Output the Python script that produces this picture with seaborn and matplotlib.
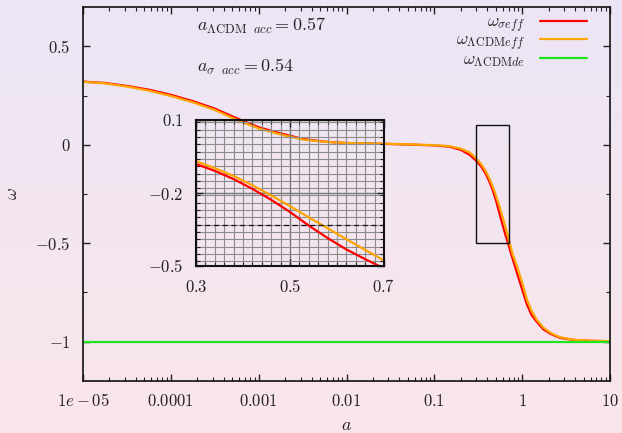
import numpy as np
import pandas as pd
import matplotlib
matplotlib.use("Agg")
import matplotlib.pyplot as plt
from matplotlib.patches import Rectangle
from matplotlib.ticker import MultipleLocator, LogLocator, NullFormatter
import seaborn as sns

# scale factor a
a_vals = [1e-05, 1.78e-05, 3.16e-05, 5.62e-05, 1e-04, 1.78e-04, 3.16e-04, 5.62e-04,
          1e-03, 1.78e-03, 3.16e-03, 5.62e-03, 1e-02, 3.16e-02, 0.1, 0.15, 0.2, 0.25,
          0.30, 0.34, 0.38, 0.42, 0.46, 0.50, 0.54, 0.58, 0.62, 0.66, 0.70,
          0.78, 0.87, 1.0, 1.13, 1.28, 1.47, 1.74, 2.07, 2.7, 3.8, 6.0, 10.0]
# effective equation of state, sigma model
w_sigma_eff = [0.321, 0.314, 0.299, 0.280, 0.254, 0.222, 0.184, 0.135,
               0.089, 0.058, 0.030, 0.016, 0.009, 0.004, -0.003, -0.010, -0.026, -0.050,
               -0.081, -0.109, -0.143, -0.183, -0.228, -0.278, -0.334, -0.385, -0.432, -0.472, -0.510,
               -0.580, -0.650, -0.735, -0.810, -0.865, -0.900, -0.937, -0.959, -0.981, -0.991, -0.996, -0.998]
# effective equation of state, LCDM
w_lcdm_eff = [0.320, 0.312, 0.296, 0.275, 0.248, 0.216, 0.177, 0.127,
              0.083, 0.052, 0.027, 0.015, 0.009, 0.005, -0.002, -0.007, -0.020, -0.038,
              -0.069, -0.098, -0.130, -0.168, -0.210, -0.254, -0.300, -0.345, -0.390, -0.434, -0.477,
              -0.557, -0.616, -0.700, -0.785, -0.844, -0.890, -0.928, -0.954, -0.978, -0.990, -0.995, -0.998]
# dark energy equation of state, LCDM
a_de = [1e-05, 10.0]
w_lcdm_de = [-1.0, -1.0]

a_acc_lcdm = 0.57
a_acc_sigma = 0.54

labels = [r"$\omega_{\sigma eff}$", r"$\omega_{\Lambda\mathrm{CDM} eff}$", r"$\omega_{\Lambda\mathrm{CDM} de}$"]
colors = ["#ff0000", "#ffa500", "#1ee61e"]

df = pd.concat([
    pd.DataFrame({"a": a_vals, "w": w_sigma_eff, "curve": labels[0]}),
    pd.DataFrame({"a": a_vals, "w": w_lcdm_eff, "curve": labels[1]}),
    pd.DataFrame({"a": a_de, "w": w_lcdm_de, "curve": labels[2]}),
], ignore_index=True)

sns.set_theme(style="ticks")
plt.rcParams["font.family"] = ["DejaVu Serif"]
plt.rcParams["mathtext.fontset"] = "cm"
plt.rcParams["xtick.direction"] = "in"
plt.rcParams["ytick.direction"] = "in"

W, H = 622, 433
fig = plt.figure(figsize=(W / 100, H / 100), dpi=100)

# soft lavender-to-pink backdrop
bg = fig.add_axes([0, 0, 1, 1], zorder=-10)
top = np.array([236, 230, 246]) / 255
bot = np.array([250, 229, 234]) / 255
t = np.linspace(0, 1, 256)[:, None, None]
grad = top * (1 - t) + bot * t
bg.imshow(np.repeat(grad, 2, axis=1), aspect="auto", extent=[0, 1, 0, 1])
bg.set_axis_off()

ax = fig.add_axes([83 / W, 1 - 381 / H, (610 - 83) / W, (381 - 7) / H])
ax.set_facecolor("none")
sns.lineplot(data=df, x="a", y="w", hue="curve", palette=colors, hue_order=labels,
             linewidth=1.6, ax=ax, sort=False, estimator=None)
ax.set_xscale("log")
ax.set_xlim(1e-5, 10)
ax.set_ylim(-1.2, 0.7)

xt = [1e-5, 1e-4, 1e-3, 1e-2, 1e-1, 1, 10]
ax.set_xticks(xt, [r"$1e-05$", r"$0.0001$", r"$0.001$", r"$0.01$", r"$0.1$", r"$1$", r"$10$"])
ax.xaxis.set_minor_locator(LogLocator(base=10, subs=np.arange(2, 10), numticks=20))
ax.xaxis.set_minor_formatter(NullFormatter())
ax.set_yticks([-1, -0.5, 0, 0.5], [r"$-1$", r"$-0.5$", r"$0$", r"$0.5$"])
ax.yaxis.set_minor_locator(MultipleLocator(0.25))
ax.tick_params(which="both", top=True, right=True, labelsize=12, colors="#222222")
ax.tick_params(which="major", length=5, width=1, pad=9)
ax.tick_params(which="minor", length=3, width=0.8)
for s in ax.spines.values():
    s.set_linewidth(1.2)
    s.set_color("#111111")
ax.set_xlabel(r"$a$", fontsize=13)
ax.set_ylabel(r"$\omega$", fontsize=13, rotation=90)
ax.xaxis.set_label_coords(0.5, -(425 - 381) / (381 - 7), transform=ax.transAxes)
ax.yaxis.set_label_coords(-(83 - 12) / (610 - 83), 0.5, transform=ax.transAxes)
ax.xaxis.label.set_va("center")
ax.yaxis.label.set_va("center")

ax.add_patch(Rectangle((0.3, -0.5), 0.4, 0.6, fill=False, edgecolor="#111111", linewidth=1.0, zorder=5))

leg = ax.legend(loc="upper right", frameon=False, markerfirst=False, fontsize=12.5,
                handlelength=2.7, labelspacing=-0.15, borderaxespad=0.0, handletextpad=0.9,
                bbox_to_anchor=(594 / W, 1 - 7 / H), bbox_transform=fig.transFigure)

ax.text(197 / W, 1 - 26 / H, r"$a_{\Lambda\mathrm{CDM}\ \ acc}=%.2f$" % a_acc_lcdm,
        transform=fig.transFigure, fontsize=13, va="center", ha="left")
ax.text(197 / W, 1 - 67 / H, r"$a_{\sigma\ \ acc}=%.2f$" % a_acc_sigma,
        transform=fig.transFigure, fontsize=13, va="center", ha="left")

# zoomed view around the onset of acceleration
ins = fig.add_axes([196 / W, 1 - 266 / H, (384 - 196) / W, (266 - 120) / H])
ins.set_facecolor("none")
df_in = df[df["curve"] != labels[2]]
sns.lineplot(data=df_in, x="a", y="w", hue="curve", palette=colors[:2], hue_order=labels[:2],
             linewidth=1.6, ax=ins, sort=False, estimator=None, legend=False)
ins.axhline(-1 / 3, color="#111111", linestyle=(0, (4, 3)), linewidth=0.9)
ins.set_xlim(0.3, 0.7)
ins.set_ylim(-0.5, 0.1)
ins.set_xticks([0.3, 0.5, 0.7], [r"$0.3$", r"$0.5$", r"$0.7$"])
ins.set_yticks([-0.5, -0.2, 0.1], [r"$-0.5$", r"$-0.2$", r"$0.1$"])
ins.xaxis.set_minor_locator(MultipleLocator(0.02))
ins.yaxis.set_minor_locator(MultipleLocator(0.03))
ins.grid(which="major", color="#777777", linewidth=1.0)
ins.grid(which="minor", color="#8c8c8c", linewidth=0.8)
ins.set_axisbelow(True)
ins.tick_params(which="both", top=True, right=True, labelsize=12, colors="#222222")
ins.tick_params(which="major", length=5, width=1, pad=9)
ins.tick_params(which="minor", length=3, width=0.8)
for s in ins.spines.values():
    s.set_linewidth(1.5)
    s.set_color("#111111")
ins.set_xlabel("")
ins.set_ylabel("")

fig.savefig("out.png", dpi=100)
